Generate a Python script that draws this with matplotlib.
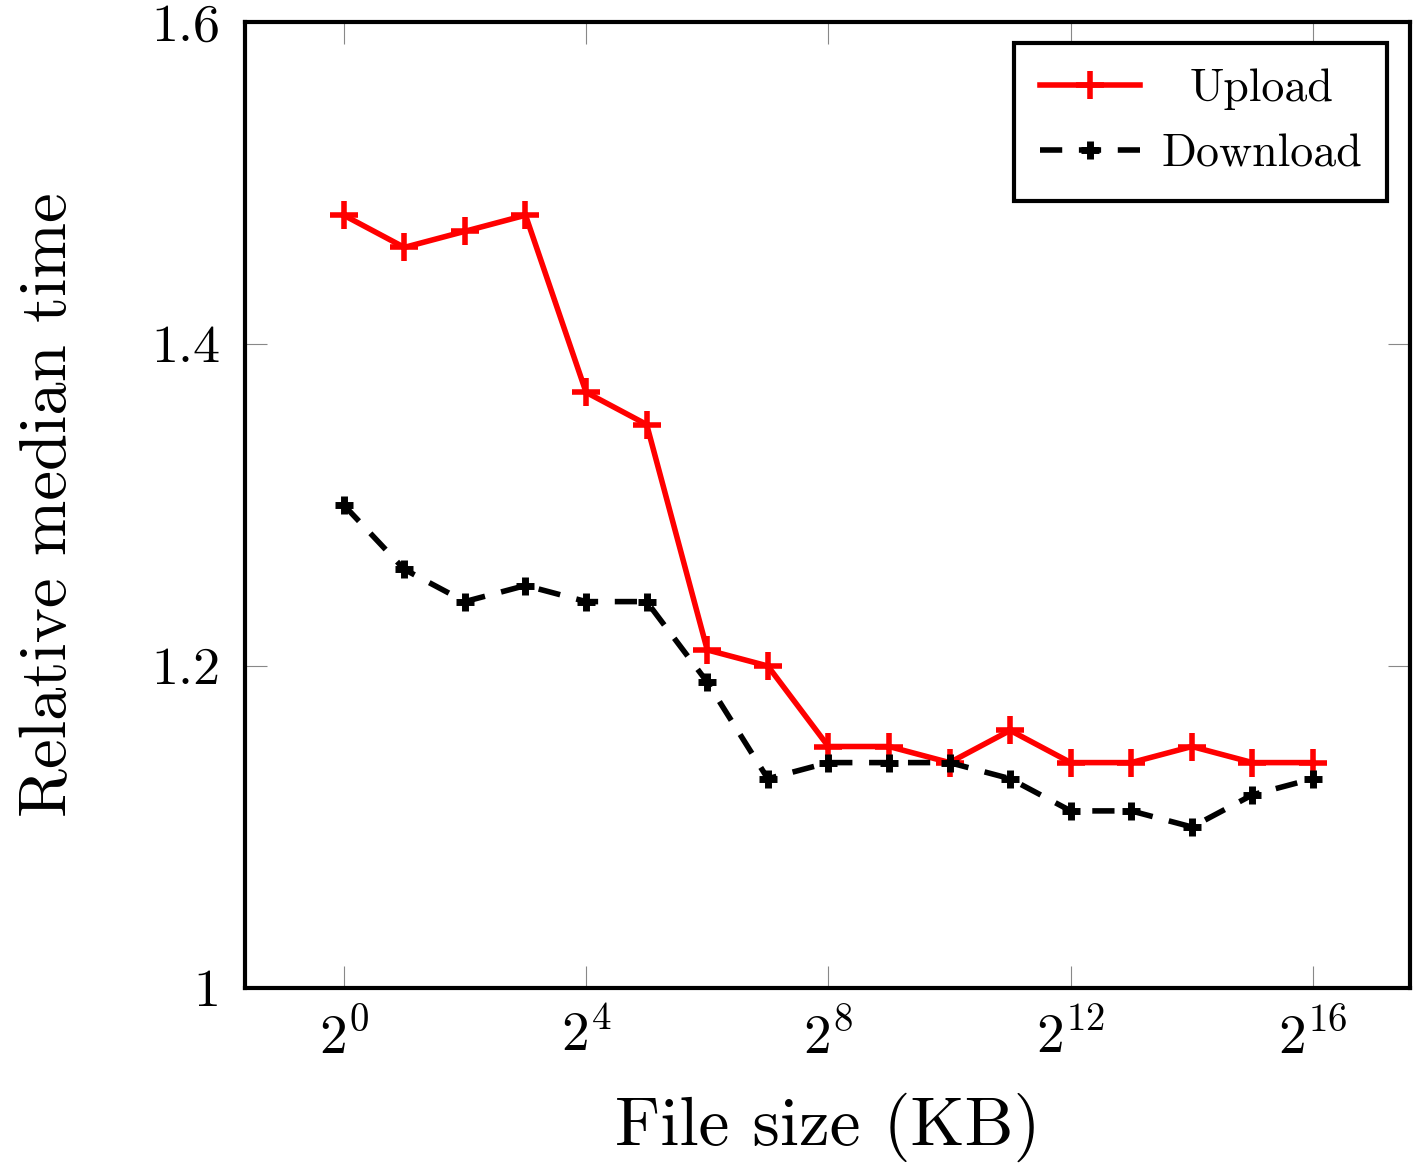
import math

import matplotlib
matplotlib.use("Agg")
import matplotlib.pyplot as plt
from matplotlib.ticker import FixedLocator, FuncFormatter

plt.rcParams["font.family"] = ["cmr10", "DejaVu Serif"]
plt.rcParams["mathtext.fontset"] = "cm"
plt.rcParams["axes.formatter.use_mathtext"] = True

# --- Data ---
exponents = list(range(0, 17))
file_sizes = [2 ** e for e in exponents]
upload = [1.48, 1.46, 1.47, 1.48, 1.37, 1.35, 1.21, 1.20, 1.15, 1.15,
          1.14, 1.16, 1.14, 1.14, 1.15, 1.14, 1.14]
download = [1.30, 1.26, 1.24, 1.25, 1.24, 1.24, 1.19, 1.13, 1.14, 1.14,
            1.14, 1.13, 1.11, 1.11, 1.10, 1.12, 1.13]
x_ticks = [0, 4, 8, 12, 16]
y_ticks = [1.0, 1.2, 1.4, 1.6]
y_tick_labels = ["1", "1.2", "1.4", "1.6"]

fig = plt.figure(figsize=(14.13, 11.67), dpi=100)
ax = fig.add_axes([245 / 1413, 1 - 988 / 1167, (1410 - 245) / 1413, (988 - 22) / 1167])

ax.plot(file_sizes, upload, color="red", lw=4, marker="+", ms=20, mew=4,
        label="Upload")
ax.plot(file_sizes, download, color="black", lw=4, ls=(0, (4, 3)),
        marker="+", ms=13, mew=5, label="Download")

ax.set_xscale("log", base=2)
ax.set_xlim(2 ** -1.63, 2 ** 17.6)
ax.set_ylim(1.0, 1.6)

ax.xaxis.set_major_locator(FixedLocator([2 ** e for e in x_ticks]))
ax.xaxis.set_minor_locator(FixedLocator([]))
ax.xaxis.set_major_formatter(FuncFormatter(lambda v, p: r"$2^{%d}$" % round(math.log2(v))))
ax.set_yticks(y_ticks)
ax.set_yticklabels(y_tick_labels)

ax.tick_params(axis="both", which="major", direction="in", length=16, width=0.8,
               color="#888888", top=True, right=True, labelsize=39)
ax.tick_params(axis="x", pad=16, labelsize=40)
ax.tick_params(axis="y", pad=18)
for s in ax.spines.values():
    s.set_linewidth(3)

ax.set_xlabel("File size (KB)", fontsize=50, labelpad=20)
ax.set_ylabel("Relative median time", fontsize=48, labelpad=52)

leg = ax.legend(loc="upper right", fontsize=33, frameon=True, fancybox=False,
                edgecolor="black", handlelength=2.2, handletextpad=0.45,
                borderpad=0.55, labelspacing=0.52, borderaxespad=0,
                bbox_to_anchor=(1 - 23 / 1165, 1 - 21 / 966))
leg.get_frame().set_linewidth(3)
leg.get_frame().set_alpha(1)

# centre the shorter label within the legend column
fig.canvas.draw()
renderer = fig.canvas.get_renderer()
texts = leg.get_texts()
widths = [t.get_window_extent(renderer).width for t in texts]
for t, w in zip(texts, widths):
    t.set_x((max(widths) - w) / 2)

fig.savefig("out.png", dpi=100)
